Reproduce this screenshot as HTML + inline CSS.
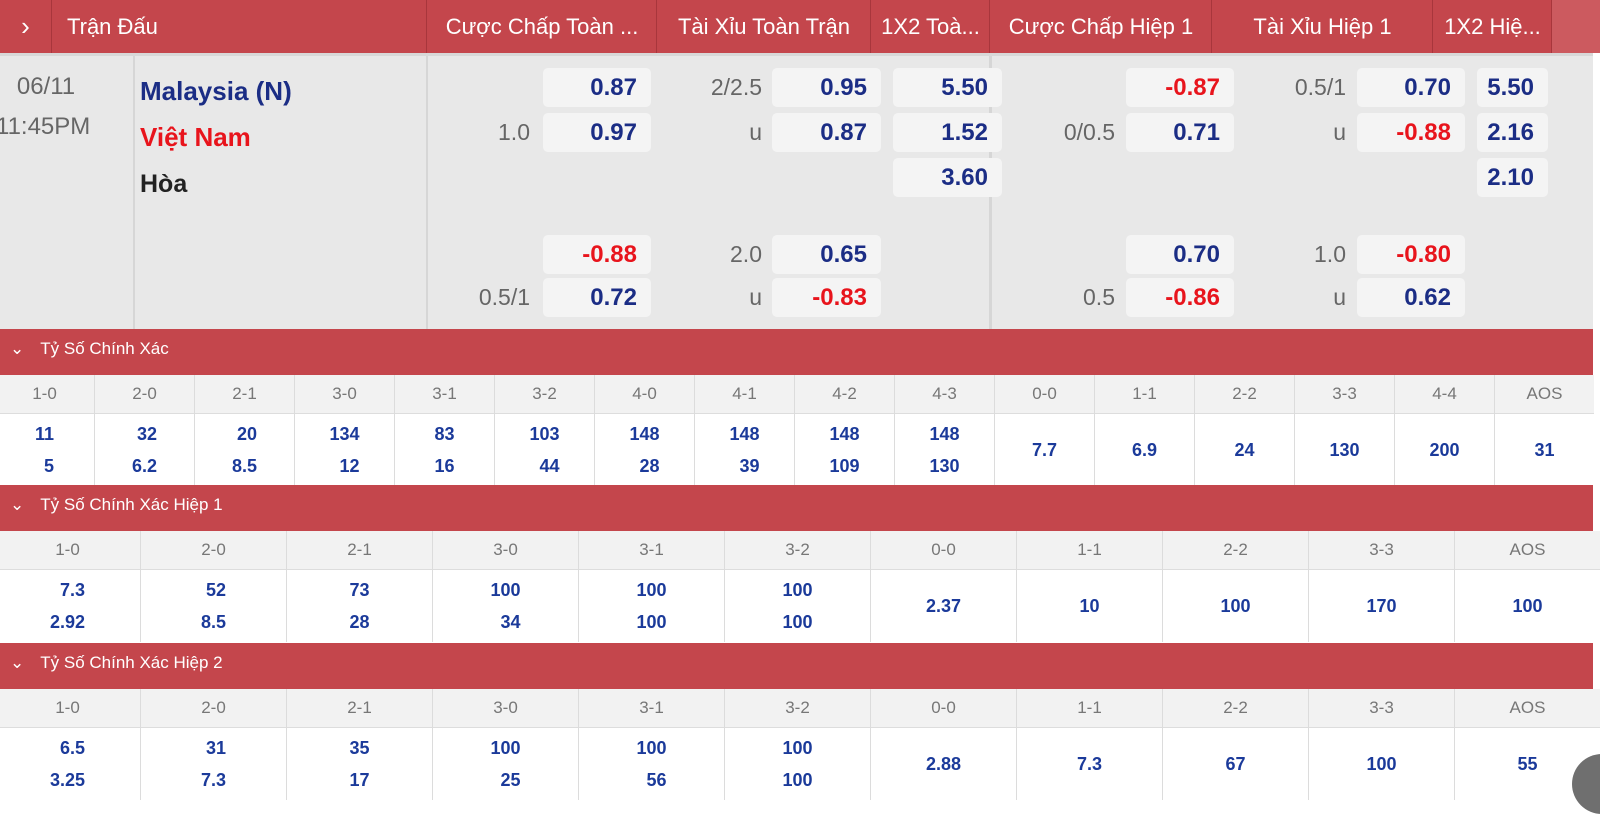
<!DOCTYPE html>
<html><head><meta charset="utf-8">
<style>
body{margin:0;width:1600px;height:799px;overflow:hidden;background:#fff;font-family:"Liberation Sans","DejaVu Sans",sans-serif;position:relative}
.a{position:absolute}
.hdr{left:0;top:0;width:1600px;height:53px;background:#c4464c}
.hc{position:absolute;top:0;height:53px;line-height:53px;color:#fff;font-size:22px;text-align:center;border-left:1px solid #a8363c;white-space:nowrap;overflow:hidden}
.match{left:0;top:53px;width:1593px;height:273px;background:#e8e8e8;border-top:3px solid #d8d8d8}
.box{position:absolute;background:#f4f4f4;border-radius:5px;height:39px;line-height:39px;text-align:right;padding-right:14px;box-sizing:border-box;font-weight:bold;font-size:24px;color:#1b2d85}
.red{color:#e8141c}
.lbl{position:absolute;height:39px;line-height:39px;text-align:right;font-size:23px;color:#666}
.sec{position:absolute;left:0;width:1593px;height:46px;background:#c4464c;color:#fff;font-size:17px;line-height:40px}
.row{position:absolute;left:0;width:1600px}
.cell{position:absolute;text-align:center;box-sizing:border-box;border-left:1px solid #dcdcdc}
.sh{background:#f2f2f2;color:#777;font-size:17px;height:39px;line-height:37px;border-bottom:1px solid #ddd}
.sv{background:#fff;color:#1b3a9a;font-weight:bold;font-size:18px;display:flex;align-items:center;justify-content:center}
.sv span{display:inline-block;text-align:right;line-height:32px}
</style></head><body>
<div class="a hdr">
 <div class="hc" style="left:0;width:51px;border:none;font-size:26px">›</div>
 <div class="hc" style="left:51px;width:375px;text-align:left;padding-left:15px;box-sizing:border-box">Trận Đấu</div>
 <div class="hc" style="left:426px;width:230px">Cược Chấp Toàn ...</div>
 <div class="hc" style="left:656px;width:214px">Tài Xỉu Toàn Trận</div>
 <div class="hc" style="left:870px;width:119px">1X2 Toà...</div>
 <div class="hc" style="left:989px;width:222px">Cược Chấp Hiệp 1</div>
 <div class="hc" style="left:1211px;width:221px">Tài Xỉu Hiệp 1</div>
 <div class="hc" style="left:1432px;width:119px">1X2 Hiệ...</div>
 <div class="hc" style="left:1551px;width:49px;background:#cc5a5f"></div>
</div>
<div class="a match">
 <div class="a" style="left:0;top:0;width:133px;height:273px;border-right:2px solid #d6d6d6"></div>
 <div class="a" style="left:426px;top:0;width:0;height:273px;border-left:2px solid #d6d6d6"></div>
 <div class="a" style="left:989px;top:0;width:0;height:273px;border-left:3px solid #d6d6d6"></div>
 <div class="a" style="left:0;top:17px;width:92px;text-align:center;font-size:24px;color:#666">06/11</div>
 <div class="a" style="left:-4px;top:57px;font-size:24px;color:#666">11:45PM</div>
 <div class="a" style="left:140px;top:20px;font-size:26px;font-weight:bold;color:#1b2d85">Malaysia (N)</div>
 <div class="a" style="left:140px;top:66px;font-size:26px;font-weight:bold;color:#e8141c">Việt Nam</div>
 <div class="a" style="left:140px;top:114px;font-size:25px;font-weight:bold;color:#222">Hòa</div>
</div>
<div id="odds"></div>
<div class="sec" style="top:329px"><span style="margin-left:10px">⌄</span><span style="margin-left:16px">Tỷ Số Chính Xác</span></div>
<div class="sec" style="top:485px"><span style="margin-left:10px">⌄</span><span style="margin-left:16px">Tỷ Số Chính Xác Hiệp 1</span></div>
<div class="sec" style="top:643px"><span style="margin-left:10px">⌄</span><span style="margin-left:16px">Tỷ Số Chính Xác Hiệp 2</span></div>
<div id="tables"></div>
<div class="a" style="left:1572px;top:754px;width:60px;height:60px;border-radius:50%;background:#6f6f6f"></div>
<script>
const odds=[
 ["",530,543,108,68,"0.87",0],["1.0",530,543,108,113,"0.97",0],["",530,543,108,235,"-0.88",1],["0.5/1",530,543,108,278,"0.72",0],
 ["2/2.5",762,772,109,68,"0.95",0],["u",762,772,109,113,"0.87",0],["2.0",762,772,109,235,"0.65",0],["u",762,772,109,278,"-0.83",1],
 ["",0,893,109,68,"5.50",0],["",0,893,109,113,"1.52",0],["",0,893,109,158,"3.60",0],
 ["",1115,1126,108,68,"-0.87",1],["0/0.5",1115,1126,108,113,"0.71",0],["",1115,1126,108,235,"0.70",0],["0.5",1115,1126,108,278,"-0.86",1],
 ["0.5/1",1346,1357,108,68,"0.70",0],["u",1346,1357,108,113,"-0.88",1],["1.0",1346,1357,108,235,"-0.80",1],["u",1346,1357,108,278,"0.62",0],
 ["",0,1477,71,68,"5.50",0],["",0,1477,71,113,"2.16",0],["",0,1477,71,158,"2.10",0]
];
const od=document.getElementById('odds');
odds.forEach(o=>{
 const b=document.createElement('div');
 
 
 b.className='box'+(o[6]?' red':'');
 b.style.cssText=`left:${o[2]}px;top:${o[4]}px;width:${o[3]}px`;
 b.textContent=o[5];od.appendChild(b);
 if(o[0]){const l=document.createElement('div');
  
  
  l.className='lbl';l.style.cssText=`left:${o[1]-100}px;top:${o[4]}px;width:100px`;l.textContent=o[0];od.appendChild(l);}
});
const scoresFT=["1-0","2-0","2-1","3-0","3-1","3-2","4-0","4-1","4-2","4-3","0-0","1-1","2-2","3-3","4-4","AOS"];
const oddsFT=[["11","5"],["32","6.2"],["20","8.5"],["134","12"],["83","16"],["103","44"],["148","28"],["148","39"],["148","109"],["148","130"],["7.7"],["6.9"],["24"],["130"],["200"],["31"]];
const scoresH=["1-0","2-0","2-1","3-0","3-1","3-2","0-0","1-1","2-2","3-3","AOS"];
const oddsH1=[["7.3","2.92"],["52","8.5"],["73","28"],["100","34"],["100","100"],["100","100"],["2.37"],["10"],["100"],["170"],["100"]];
const oddsH2=[["6.5","3.25"],["31","7.3"],["35","17"],["100","25"],["100","56"],["100","100"],["2.88"],["7.3"],["67"],["100"],["55"]];
const tb=document.getElementById('tables');
function table(scores,vals,top,start,w,vh,name){
 scores.forEach((s,i)=>{
  const h=document.createElement('div');
  
  
  h.className='cell sh';h.style.cssText=`left:${start+i*w}px;top:${top}px;width:${w}px`;h.textContent=s;tb.appendChild(h);
  const v=document.createElement('div');
  
  
  v.className='cell sv';v.style.cssText=`left:${start+i*w}px;top:${top+39}px;width:${w}px;height:${vh}px`;
  v.innerHTML='<span>'+vals[i].join('<br>')+'</span>';tb.appendChild(v);
 });
}
table(scoresFT,oddsFT,375,-6,100,71,'ft');
table(scoresH,oddsH1,531,-6,146,72,'h1');
table(scoresH,oddsH2,689,-6,146,72,'h2');
</script>
</body></html>
